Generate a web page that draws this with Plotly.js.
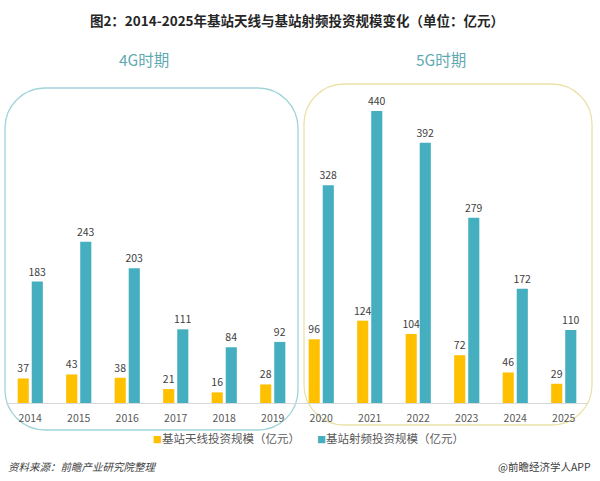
<!DOCTYPE html>
<html>
<head>
<meta charset="utf-8">
<script src="https://cdn.plot.ly/plotly-3.0.1.min.js"></script>
<style>html,body{margin:0;padding:0;background:#fff;}#chart{width:600px;height:481px;}</style>
</head>
<body>
<div id="chart"></div>
<script>
// ---- data ----
const years = ['2014','2015','2016','2017','2018','2019','2020','2021','2022','2023','2024','2025'];
const antennaValues = [37, 43, 38, 21, 16, 28, 96, 124, 104, 72, 46, 29];
const rfValues = [183, 243, 203, 111, 84, 92, 328, 440, 392, 279, 172, 110];
const seriesNames = ['基站天线投资规模（亿元）', '基站射频投资规模（亿元）'];
const periodLabels = ['4G时期', '5G时期'];
const chartTitle = '图2：2014-2025年基站天线与基站射频投资规模变化（单位：亿元）';
const sourceText = '资料来源：前瞻产业研究院整理';
const creditText = '@前瞻经济学人APP';

// ---- style ----
const FONT = '"Noto Sans CJK SC", "Noto Sans", sans-serif';
const YELLOW = '#FFC000';
const TEAL = '#45AFC0';
const W = 600, H = 481;
const M = {l: 6, r: 12, t: 90, b: 78};
const PW = W - M.l - M.r, PH = H - M.t - M.b;
const px = x => (x - M.l) / PW;
const py = y => (H - M.b - y) / PH;

function roundRect(x1, y1, x2, y2, r) {
  const k = 0.5523 * r;
  const P = (x, y) => px(x).toFixed(5) + ',' + py(y).toFixed(5);
  return 'M' + P(x1 + r, y1) +
    ' L' + P(x2 - r, y1) +
    ' C' + P(x2 - r + k, y1) + ' ' + P(x2, y1 + r - k) + ' ' + P(x2, y1 + r) +
    ' L' + P(x2, y2 - r) +
    ' C' + P(x2, y2 - r + k) + ' ' + P(x2 - r + k, y2) + ' ' + P(x2 - r, y2) +
    ' L' + P(x1 + r, y2) +
    ' C' + P(x1 + r - k, y2) + ' ' + P(x1, y2 - r + k) + ' ' + P(x1, y2 - r) +
    ' L' + P(x1, y1 + r) +
    ' C' + P(x1, y1 + r - k) + ' ' + P(x1 + r - k, y1) + ' ' + P(x1 + r, y1) + ' Z';
}

const labelFont = {family: FONT, size: 10.5, color: '#404040'};

const traces = [
  {
    type: 'bar', x: years, y: antennaValues, name: seriesNames[0],
    marker: {color: YELLOW},
    text: antennaValues.map(String), textposition: 'outside', constraintext: 'none',
    textfont: labelFont, cliponaxis: false, hoverinfo: 'x+y'
  },
  {
    type: 'bar', x: years, y: rfValues, name: seriesNames[1],
    marker: {color: TEAL},
    text: rfValues.map(String), textposition: 'outside', constraintext: 'none',
    textfont: labelFont, cliponaxis: false, hoverinfo: 'x+y'
  }
];

const legendAnn = (i, xpx, color) => ({
  xref: 'paper', yref: 'paper', x: px(xpx), y: py(438),
  xanchor: 'left', yanchor: 'middle', showarrow: false,
  text: '<span style="font-size:9px;fill:' + color + '">■</span>' + seriesNames[i],
  font: {family: FONT, size: 11.5, color: '#595959'}
});

const layout = {
  width: W, height: H,
  margin: M,
  paper_bgcolor: '#ffffff', plot_bgcolor: '#ffffff',
  showlegend: false,
  barmode: 'group', bargap: 0.42, bargroupgap: 0.21,
  uniformtext: {mode: false},
  title: {
    text: '<b>' + chartTitle + '</b>',
    font: {family: FONT, size: 13.5, color: '#262626'},
    xref: 'paper', x: 0.5, xanchor: 'center',
    yref: 'container', y: 1 - 21 / H, yanchor: 'middle'
  },
  xaxis: {
    type: 'category', range: [-0.5, 11.5],
    showline: true, linecolor: '#d9d9d9', linewidth: 1,
    showgrid: false, zeroline: false, ticks: '',
    ticklabelstandoff: 5,
    tickfont: {family: FONT, size: 10.5, color: '#595959'}
  },
  yaxis: {
    range: [0, 471.5], visible: false, showgrid: false, zeroline: false
  },
  shapes: [
    {type: 'path', xref: 'paper', yref: 'paper', path: roundRect(5, 88, 298, 430, 40),
     line: {color: '#9fd4da', width: 1.3}, layer: 'below'},
    {type: 'path', xref: 'paper', yref: 'paper', path: roundRect(304, 84, 592, 425, 40),
     line: {color: '#ebe2a8', width: 1.3}, layer: 'below'}
  ],
  annotations: [
    {xref: 'paper', yref: 'paper', x: px(144), y: py(59), xanchor: 'center', yanchor: 'middle',
     showarrow: false, text: periodLabels[0], font: {family: FONT, size: 15.5, color: '#5fa9b2'}},
    {xref: 'paper', yref: 'paper', x: px(441), y: py(59), xanchor: 'center', yanchor: 'middle',
     showarrow: false, text: periodLabels[1], font: {family: FONT, size: 15.5, color: '#5fa9b2'}},
    legendAnn(0, 151, YELLOW),
    legendAnn(1, 315, TEAL),
    {xref: 'paper', yref: 'paper', x: px(6), y: py(466), xanchor: 'left', yanchor: 'middle',
     showarrow: false, text: '<i>' + sourceText + '</i>', font: {family: FONT, size: 10.5, color: '#404040'}},
    {xref: 'paper', yref: 'paper', x: px(593), y: py(466), xanchor: 'right', yanchor: 'middle',
     showarrow: false, text: creditText, font: {family: FONT, size: 10.5, color: '#404040'}}
  ]
};

Plotly.newPlot('chart', traces, layout, {displayModeBar: false, staticPlot: true});
</script>
</body>
</html>
